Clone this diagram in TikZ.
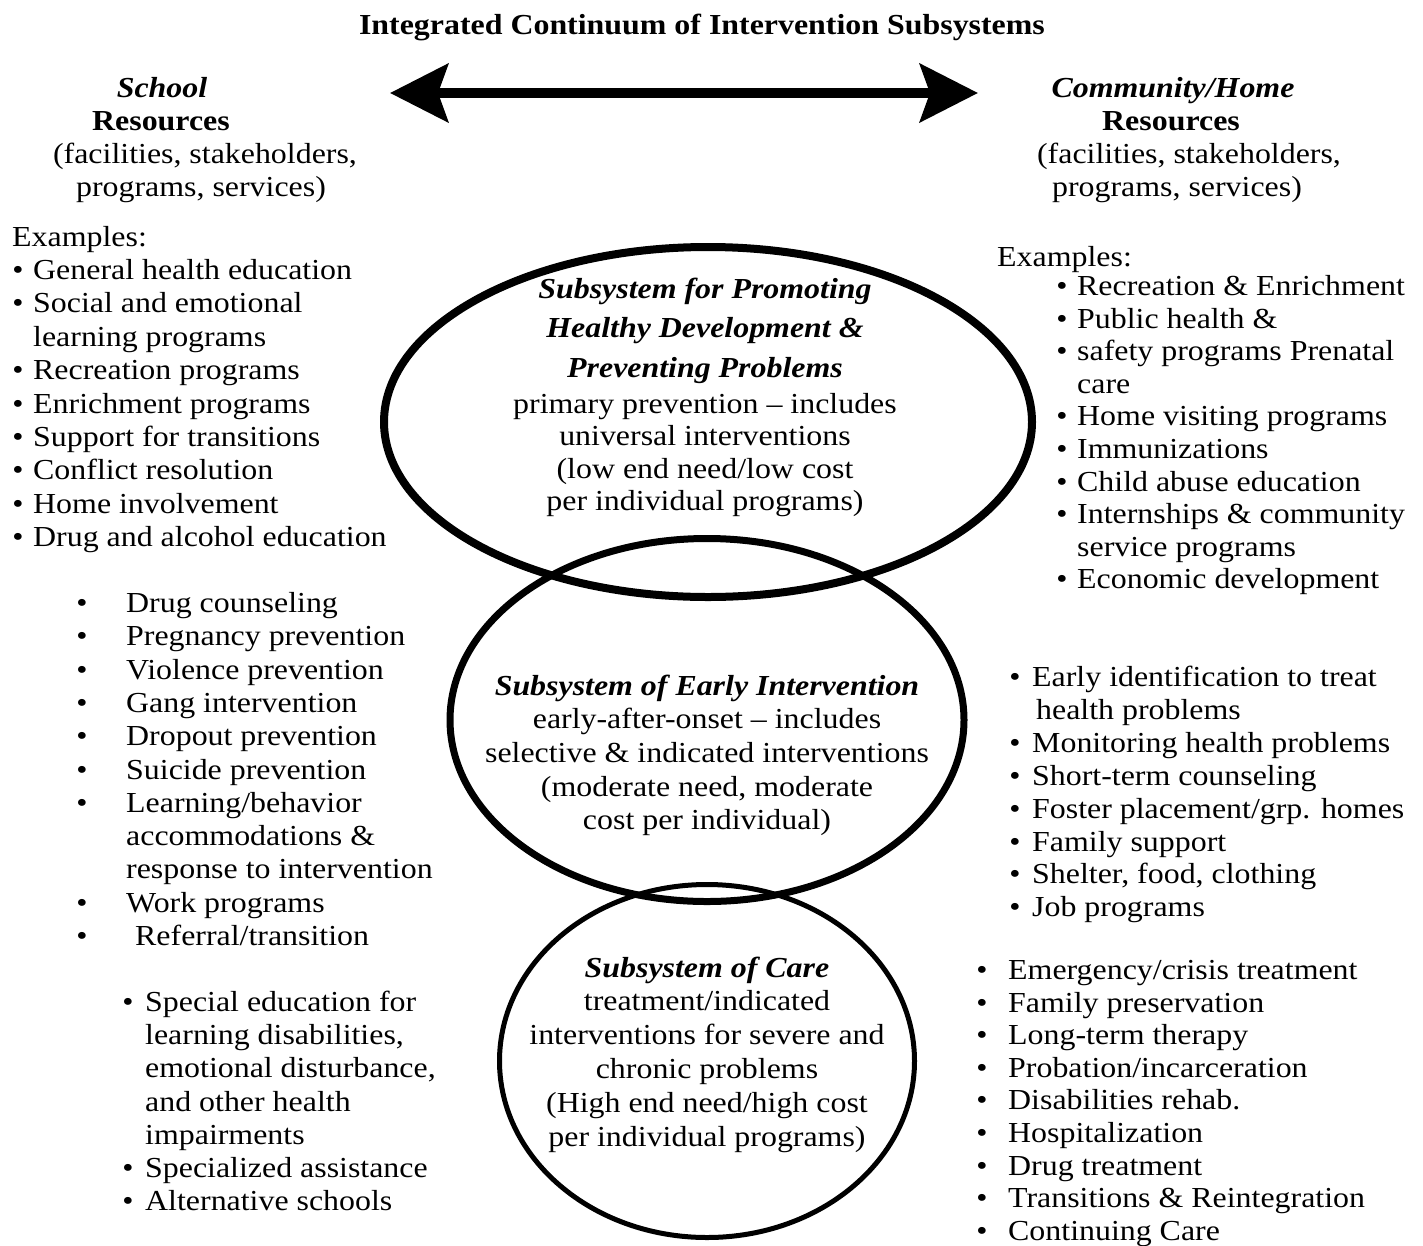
\documentclass[tikz,border=0pt]{standalone}
\usepackage{fontspec}
\setmainfont{Liberation Serif}[FakeStretch=1.1]
\usetikzlibrary{arrows.meta,shapes.geometric}
\newcommand\bodyfont{\fontsize{29}{33}\selectfont}

\begin{document}
\begin{tikzpicture}[x=1pt, y=-1pt,
  txt/.style={font=\bodyfont, inner sep=0pt, text height=25pt, text depth=6pt},
  head/.style={txt, font=\bodyfont\bfseries},
  subhead/.style={txt, font=\bodyfont\bfseries\itshape},
  dot/.style={txt, anchor=center},
  item/.style={txt, anchor=west},
  subsys/.style={ellipse, draw, inner sep=0pt}
]
\useasboundingbox (0,0) rectangle (1423,1245);

% --- Title and arrow ---
\node[head] (title) at (702,25) {Integrated Continuum of Intervention Subsystems};
\coordinate (arrW) at (390,93);
\coordinate (arrE) at (978,93);
\draw[line width=10pt, {Stealth[length=58pt,width=58pt,inset=10pt]}-{Stealth[length=58pt,width=58pt,inset=10pt]}] (arrW) -- (arrE);

% --- Resource headers ---
\node[subhead] (schoolhd) at (162,88) {School};
\node[head] (schoolres) at (161,121) {Resources};
\node[txt] (schoolfac) at (205,154) {(facilities, stakeholders,};
\node[txt] (schoolprog) at (201,187) {programs, services)};

\node[subhead] (commhd) at (1173,88) {Community/Home};
\node[head] (commres) at (1171,121) {Resources};
\node[txt] (commfac) at (1189,154) {(facilities, stakeholders,};
\node[txt] (commprog) at (1177,187) {programs, services)};

% --- Subsystem ellipses ---
\node[subsys, line width=8pt, minimum width=648, minimum height=350] (promo) at (708,422) {};
\node[subsys, line width=7pt, minimum width=514, minimum height=363] (early) at (707,720) {};
\node[subsys, line width=5pt, minimum width=415, minimum height=353] (care) at (707,1061) {};

\node[subhead] (promo1) at (705,289) {Subsystem for Promoting};
\node[subhead] (promo2) at (705,328) {Healthy Development \&};
\node[subhead] (promo3) at (705,368) {Preventing Problems};
\node[txt] (promo4) at (705,404) {primary prevention -- includes};
\node[txt] (promo5) at (705,436) {universal interventions};
\node[txt] (promo6) at (705,469) {(low end need/low cost};
\node[txt] (promo7) at (705,501) {per individual programs)};

\node[subhead] (early1) at (707,686) {Subsystem of Early Intervention};
\node[txt] (early2) at (707,719) {early-after-onset -- includes};
\node[txt] (early3) at (707,753) {selective \& indicated interventions};
\node[txt] (early4) at (707,787) {(moderate need, moderate};
\node[txt] (early5) at (707,820) {cost per individual)};

\node[subhead] (care1) at (707,968) {Subsystem of Care};
\node[txt] (care2) at (707,1001) {treatment/indicated};
\node[txt] (care3) at (707,1035) {interventions for severe and};
\node[txt] (care4) at (707,1069) {chronic problems};
\node[txt] (care5) at (707,1103) {(High end need/high cost};
\node[txt] (care6) at (707,1137) {per individual programs)};

% --- School lists ---
\node[item] (schoolex) at (12,237) {Examples:};
\foreach \mk/\tx [count=\i] in {b/General health education, b/Social and emotional,
    n/learning programs, b/Recreation programs, b/Enrichment programs,
    b/Support for transitions, b/Conflict resolution, b/Home involvement,
    b/Drug and alcohol education} {
  \if b\mk \node[dot] (sa\i d) at (18,{270+33.4*(\i-1)}) {\textbullet}; \fi
  \node[item] (sa\i) at (33,{270+33.4*(\i-1)}) {\tx};
}

\foreach \mk/\tx [count=\i] in {b/Drug counseling, b/Pregnancy prevention,
    b/Violence prevention, b/Gang intervention, b/Dropout prevention,
    b/Suicide prevention, b/{Learning/behavior}, n/accommodations \&,
    n/response to intervention, b/Work programs, b/{\hspace{9pt}Referral/transition}} {
  \if b\mk \node[dot] (sb\i d) at (82,{603+33.3*(\i-1)}) {\textbullet}; \fi
  \node[item] (sb\i) at (126,{603+33.3*(\i-1)}) {\tx};
}

\foreach \mk/\tx [count=\i] in {b/Special education for, n/{learning disabilities,},
    n/{emotional disturbance,}, n/and other health, n/impairments,
    b/Specialized assistance, b/Alternative schools} {
  \if b\mk \node[dot] (sc\i d) at (128,{1002+33.2*(\i-1)}) {\textbullet}; \fi
  \node[item] (sc\i) at (145,{1002+33.2*(\i-1)}) {\tx};
}

% --- Community/Home lists ---
\node[item] (commex) at (997,257) {Examples:};
\foreach \mk/\tx [count=\i] in {b/Recreation \& Enrichment, b/Public health \&,
    b/safety programs Prenatal, n/care, b/Home visiting programs, b/Immunizations,
    b/Child abuse education, b/Internships \& community, n/service programs,
    b/Economic development} {
  \if b\mk \node[dot] (ca\i d) at (1062,{286+32.6*(\i-1)}) {\textbullet}; \fi
  \node[item] (ca\i) at (1077,{286+32.6*(\i-1)}) {\tx};
}

\foreach \mk/\tx [count=\i] in {b/Early identification to treat, n/{\hspace{4pt}health problems},
    b/Monitoring health problems, b/Short-term counseling,
    b/{Foster placement/grp. homes}, b/Family support,
    b/{Shelter, food, clothing}, b/Job programs} {
  \if b\mk \node[dot] (cb\i d) at (1015,{677+32.9*(\i-1)}) {\textbullet}; \fi
  \node[item] (cb\i) at (1032,{677+32.9*(\i-1)}) {\tx};
}

\foreach \mk/\tx [count=\i] in {b/{Emergency/crisis treatment}, b/Family preservation,
    b/Long-term therapy, b/{Probation/incarceration}, b/Disabilities rehab.,
    b/Hospitalization, b/Drug treatment, b/Transitions \& Reintegration,
    b/Continuing Care} {
  \if b\mk \node[dot] (cc\i d) at (982,{970+32.6*(\i-1)}) {\textbullet}; \fi
  \node[item] (cc\i) at (1008,{970+32.6*(\i-1)}) {\tx};
}

\end{tikzpicture}
\end{document}
